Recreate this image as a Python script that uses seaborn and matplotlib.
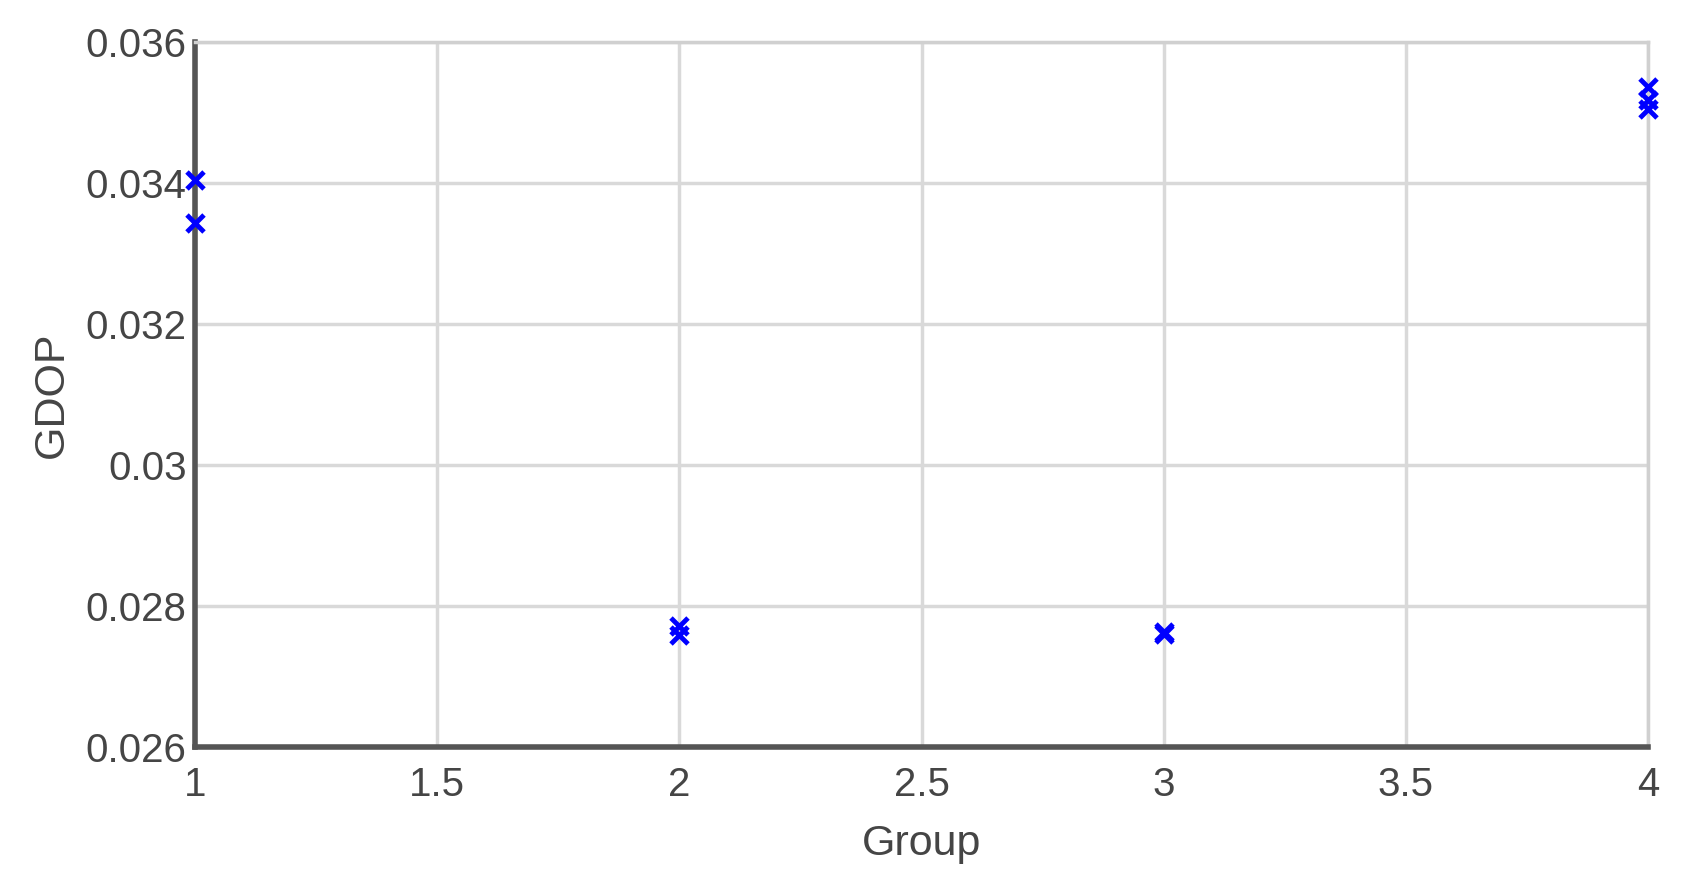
import matplotlib
matplotlib.use("Agg")
import matplotlib.pyplot as plt
import seaborn as sns
import pandas as pd

groups = [1, 1, 2, 2, 3, 3, 4, 4, 4]
gdop = [0.03404, 0.03343, 0.02772, 0.02759, 0.02763, 0.02760, 0.03536, 0.03518, 0.03505]

df = pd.DataFrame({"Group": groups, "GDOP": gdop})

sns.set_theme(style="whitegrid")
plt.rcParams['font.family'] = ['Liberation Sans', 'DejaVu Sans']

fig = plt.figure(figsize=(16.89, 8.90), dpi=100)
ax = fig.add_axes([0.1155, 0.1607, 0.8602, 0.7921])

sns.scatterplot(data=df, x="Group", y="GDOP", marker="x", color="#0000ff",
                s=150, linewidth=3.5, ax=ax, clip_on=False, zorder=5)

ax.set_xlim(1, 4)
ax.set_ylim(0.026, 0.036)
ax.set_xticks([1, 1.5, 2, 2.5, 3, 3.5, 4])
ax.set_xticklabels(["1", "1.5", "2", "2.5", "3", "3.5", "4"])
ax.set_yticks([0.026, 0.028, 0.03, 0.032, 0.034, 0.036])
ax.set_yticklabels(["0.026", "0.028", "0.03", "0.032", "0.034", "0.036"])

ax.grid(True, color="#d9d9d9", linewidth=2.5)
ax.set_facecolor("white")
for side in ["left", "bottom"]:
    ax.spines[side].set_color("#555555")
    ax.spines[side].set_linewidth(4)
for side in ["top", "right"]:
    ax.spines[side].set_color("#d0d0d0")
    ax.spines[side].set_linewidth(2.5)
    ax.spines[side].set_visible(True)

ax.tick_params(axis="both", direction="in", length=8, width=2, color="#444444",
               labelsize=29, labelcolor="#454545")
ax.tick_params(axis="x", pad=14)
ax.tick_params(axis="y", pad=6)

ax.set_xlabel("Group", fontsize=31, color="#454545", labelpad=14)
ax.set_ylabel("GDOP", fontsize=31, color="#454545", labelpad=10)

fig.savefig("out.png", dpi=100, facecolor="white")
